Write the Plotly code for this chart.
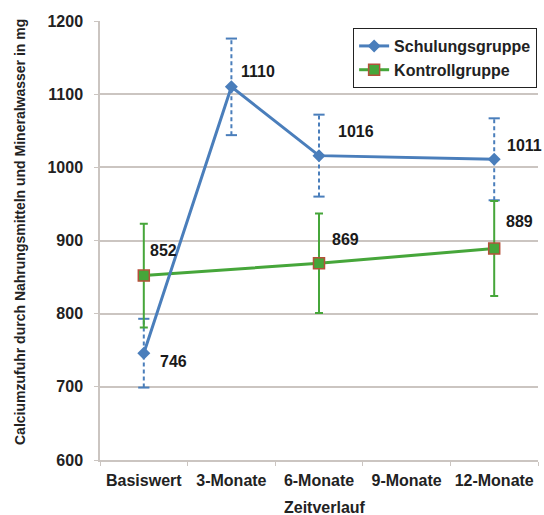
import plotly.graph_objects as go

# Zeitpunkte der Erhebung
zeitpunkte = ["Basiswert", "3-Monate", "6-Monate", "9-Monate", "12-Monate"]

# Schulungsgruppe: Mittelwerte und Standardabweichungen (mg)
schulung_x = ["Basiswert", "3-Monate", "6-Monate", "12-Monate"]
schulung_mw = [746, 1110, 1016, 1011]
schulung_sd = [47, 66, 56, 56]

# Kontrollgruppe: Mittelwerte und Standardabweichungen (mg)
kontroll_x = ["Basiswert", "6-Monate", "12-Monate"]
kontroll_mw = [852, 869, 889]
kontroll_sd = [71, 68, 65]

# Position der Wertebeschriftungen relativ zum Punkt (px)
schulung_label_shift = [(14, -8), (8, 15), (17, 24), (11, 14)]
kontroll_label_shift = [(4, 25), (11, 24), (10, 27)]

BLAU = "#4a7ebb"
GRUEN = "#46a63a"
ROTBRAUN = "#b5503a"
GRID = "#cbc5c1"
FONT = "Liberation Sans, Arial, sans-serif"

fig = go.Figure()

# gestrichelte Fehlerbalken der Schulungsgruppe
eb_x, eb_y = [], []
cap_x, cap_y = [], []
for x, m, s in zip(schulung_x, schulung_mw, schulung_sd):
    eb_x += [x, x, None]
    eb_y += [m - s, m + s, None]
    cap_x += [x, x]
    cap_y += [m - s, m + s]
fig.add_trace(go.Scatter(
    x=eb_x, y=eb_y, mode="lines", showlegend=False, hoverinfo="skip",
    line=dict(color=BLAU, width=2, dash="4px,3px"),
))
fig.add_trace(go.Scatter(
    x=cap_x, y=cap_y, mode="markers", showlegend=False, hoverinfo="skip",
    marker=dict(symbol="line-ew", size=8, line=dict(color=BLAU, width=2)),
))

# Kontrollgruppe mit durchgezogenen Fehlerbalken
fig.add_trace(go.Scatter(
    x=kontroll_x, y=kontroll_mw, mode="lines+markers", name="Kontrollgruppe",
    line=dict(color=GRUEN, width=3),
    marker=dict(symbol="square", size=11, color=GRUEN,
                line=dict(color=ROTBRAUN, width=1.5)),
    error_y=dict(type="data", array=kontroll_sd, visible=True,
                 color=GRUEN, thickness=2, width=4),
))

# Schulungsgruppe
fig.add_trace(go.Scatter(
    x=schulung_x, y=schulung_mw, mode="lines+markers", name="Schulungsgruppe",
    line=dict(color=BLAU, width=3),
    marker=dict(symbol="diamond", size=10, color=BLAU),
))

label_font = dict(family=FONT, size=16, color="#1a1a1a", weight="bold")
annotations = []
for x, m, (dx, dy) in zip(schulung_x, schulung_mw, schulung_label_shift):
    annotations.append(dict(
        x=x, y=m, text=str(m), showarrow=False, xanchor="left", yanchor="middle",
        xshift=dx, yshift=dy, font=label_font,
    ))
for x, m, (dx, dy) in zip(kontroll_x, kontroll_mw, kontroll_label_shift):
    annotations.append(dict(
        x=x, y=m, text=str(m), showarrow=False, xanchor="left", yanchor="middle",
        xshift=dx, yshift=dy, font=label_font,
    ))

# Achsentitel
annotations.append(dict(
    xref="paper", yref="paper", x=-0.183, y=0.519, textangle=-90,
    text="<b>Calciumzufuhr durch Nahrungsmitteln und Mineralwasser in mg</b>",
    showarrow=False, xanchor="center", yanchor="middle",
    font=dict(family=FONT, size=14, color="#222222"),
))
annotations.append(dict(
    xref="paper", yref="paper", x=0.514, y=-0.108,
    text="<b>Zeitverlauf</b>", showarrow=False, xanchor="center", yanchor="middle",
    font=dict(family=FONT, size=16, color="#222222"),
))

fig.update_layout(
    width=544, height=515,
    margin=dict(l=100, r=6, t=21, b=55),
    paper_bgcolor="white", plot_bgcolor="white",
    font=dict(family=FONT, size=16, color="#222222"),
    annotations=annotations,
    legend=dict(
        x=0.998, y=0.984, xanchor="right", yanchor="top",
        bgcolor="white", bordercolor="#222222", borderwidth=1,
        font=dict(family=FONT, size=16, color="#222222", weight="bold"),
        traceorder="reversed",
    ),
    xaxis=dict(
        type="category", categoryorder="array", categoryarray=zeitpunkte,
        range=[-0.5, 4.5], showgrid=False, tickson="boundaries",
        ticks="outside", ticklen=4, tickcolor=GRID,
        showline=True, linecolor=GRID, linewidth=1.5,
        ticklabelstandoff=5, tickangle=0, automargin=False,
        tickfont=dict(family=FONT, size=16, weight="bold"),
    ),
    yaxis=dict(
        range=[600, 1200], dtick=100, showgrid=True, gridcolor=GRID, gridwidth=1.5,
        ticks="outside", ticklen=4, tickcolor=GRID,
        showline=True, linecolor=GRID, linewidth=1.5, zeroline=False,
        ticklabelstandoff=8, automargin=False,
        tickfont=dict(family=FONT, size=16, weight="bold"),
    ),
)

fig.write_html("out.html")
